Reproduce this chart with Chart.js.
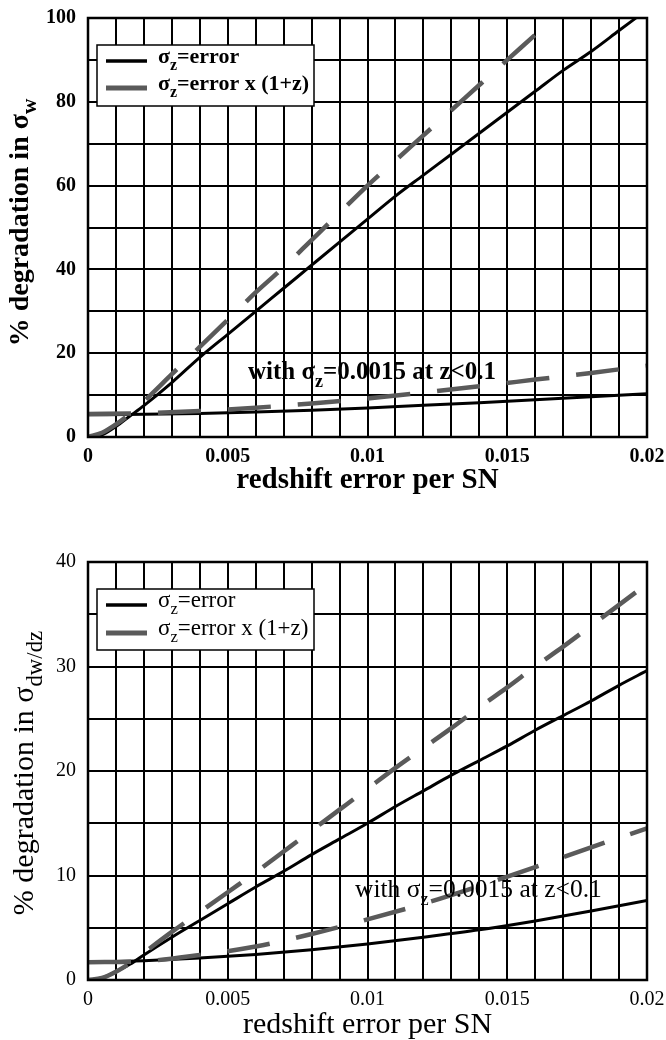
<!DOCTYPE html>
<html>
<head>
<meta charset="utf-8">
<script src="https://cdn.jsdelivr.net/npm/chart.js@4.4.1/dist/chart.umd.min.js"></script>
<style>
  html, body { margin: 0; padding: 0; background: #fff; }
  canvas { display: block; }
</style>
</head>
<body>
<canvas id="topChart" width="666" height="510"></canvas>
<canvas id="bottomChart" width="666" height="530"></canvas>
<script>
// redshift error per SN (x) sample points
const errX = [0, 0.0005, 0.001, 0.0015, 0.002, 0.003, 0.004, 0.005, 0.006, 0.007, 0.008,
  0.009, 0.010, 0.011, 0.012, 0.013, 0.014, 0.015, 0.016, 0.017, 0.018, 0.019, 0.020];
const lowX = [0, 0.002, 0.004, 0.006, 0.008, 0.010, 0.012, 0.014, 0.016, 0.018, 0.020];

// % degradation in sigma_w
const wErr = [0, 0.5, 2.5, 5, 7.5, 13, 19, 24.5, 30, 35.5, 41, 46.5, 52, 57.5, 62.5, 67.5,
  72.5, 77.5, 82.5, 87.5, 92, 97, 102];
const wErr1z = [0, 1, 3, 5.5, 8.5, 15, 21.5, 28, 34.5, 40.5, 47, 53.5, 60, 66, 72, 78, 84,
  90, 96, 102];
const wLowErr = [5.3, 5.4, 5.6, 5.95, 6.4, 6.95, 7.55, 8.2, 8.9, 9.6, 10.3];
const wLowErr1z = [5.5, 5.7, 6.2, 7.0, 8.0, 9.2, 10.6, 12.1, 13.7, 15.3, 17.0];

// % degradation in sigma_dw/dz
const dwErr = [0, 0.2, 0.8, 1.5, 2.4, 4.1, 5.7, 7.3, 8.9, 10.4, 12.0, 13.5, 15.0, 16.6, 18.1,
  19.6, 21.0, 22.4, 23.9, 25.3, 26.7, 28.2, 29.6];
const dwErr1z = [0, 0.2, 0.8, 1.6, 2.6, 4.6, 6.5, 8.4, 10.3, 12.3, 14.3, 16.3, 18.3, 20.3, 22.2,
  24.1, 26.1, 28.0, 30.0, 31.9, 33.9, 35.9, 37.9];
const dwLowErr = [1.7, 1.85, 2.1, 2.45, 2.9, 3.45, 4.1, 4.8, 5.65, 6.6, 7.6];
const dwLowErr1z = [1.7, 1.8, 2.4, 3.2, 4.4, 5.8, 7.3, 9.0, 10.8, 12.7, 14.5];

const xTickLabels = ['0', '0.005', '0.01', '0.015', '0.02'];
const wTickLabels = ['0', '20', '40', '60', '80', '100'];
const dwTickLabels = ['0', '10', '20', '30', '40'];

const legendItems = [
  { parts: [['σ'], ['z', 1], ['=error']], color: '#000', width: 3.5 },
  { parts: [['σ'], ['z', 1], ['=error x (1+z)']], color: '#5a5a5a', width: 5 }
];
const noteParts = [['with σ'], ['z', 1], ['=0.0015 at z<0.1']];

const FONT = '"Liberation Serif", "Times New Roman", serif';
const GREY = '#5a5a5a';

function pts(xs, ys) {
  return ys.map((y, i) => ({ x: xs[i], y: y }));
}

function richWidth(ctx, parts, size, weight, subScale) {
  let w = 0;
  parts.forEach(p => {
    ctx.font = weight + ' ' + (p[1] ? size * subScale : size) + 'px ' + FONT;
    w += ctx.measureText(p[0]).width;
  });
  return w;
}

function drawRich(ctx, parts, x, y, size, weight, subScale) {
  subScale = subScale || 0.72;
  let cx = x;
  ctx.textBaseline = 'alphabetic';
  ctx.textAlign = 'left';
  ctx.fillStyle = '#000';
  parts.forEach(p => {
    const sz = p[1] ? size * subScale : size;
    ctx.font = weight + ' ' + sz + 'px ' + FONT;
    ctx.fillText(p[0], cx, p[1] ? y + size * 0.3 : y);
    cx += ctx.measureText(p[0]).width;
  });
}

function makeChart(id, cfg) {
  const frame = {
    id: 'frame',
    afterDraw(chart) {
      const ctx = chart.ctx;
      const a = chart.chartArea;
      ctx.save();
      ctx.strokeStyle = '#000';
      ctx.lineWidth = 2.5;
      ctx.strokeRect(a.left, a.top, a.right - a.left, a.bottom - a.top);

      // legend box
      const lg = cfg.legend;
      ctx.fillStyle = '#fff';
      ctx.fillRect(lg.x, lg.y, lg.w, lg.h);
      ctx.lineWidth = 1.5;
      ctx.strokeRect(lg.x, lg.y, lg.w, lg.h);
      legendItems.forEach((it, i) => {
        const yy = lg.y + lg.rows[i];
        ctx.beginPath();
        ctx.strokeStyle = it.color;
        ctx.lineWidth = it.width;
        ctx.moveTo(lg.x + 9, yy);
        ctx.lineTo(lg.x + 50, yy);
        ctx.stroke();
        drawRich(ctx, it.parts, lg.x + 61, yy + 2, cfg.legendSize, cfg.weight);
      });

      // note on the low curves
      drawRich(ctx, noteParts, cfg.note.x, cfg.note.y, cfg.noteSize, cfg.weight);

      // x title
      ctx.font = cfg.weight + ' ' + cfg.titleSize + 'px ' + FONT;
      ctx.fillStyle = '#000';
      ctx.textAlign = 'center';
      ctx.textBaseline = 'alphabetic';
      ctx.fillText('redshift error per SN', (a.left + a.right) / 2, cfg.xTitleY);

      // y title (rotated, with subscript)
      const w = richWidth(ctx, cfg.yTitle, cfg.yTitleSize, cfg.weight, 0.76);
      ctx.translate(cfg.yTitleX, (a.top + a.bottom) / 2 + cfg.yTitleShift);
      ctx.rotate(-Math.PI / 2);
      drawRich(ctx, cfg.yTitle, -w / 2, 0, cfg.yTitleSize, cfg.weight, 0.76);
      ctx.restore();
    }
  };

  return new Chart(document.getElementById(id), {
    type: 'line',
    data: {
      datasets: [
        { data: pts(errX, cfg.main1z), borderColor: GREY, borderWidth: 4.5, borderDash: [43, 27], order: 0 },
        { data: pts(lowX, cfg.low1z), borderColor: GREY, borderWidth: 4.5, borderDash: [43, 27], order: 1 },
        { data: pts(errX, cfg.main), borderColor: '#000', borderWidth: 3, order: 2 },
        { data: pts(lowX, cfg.low), borderColor: '#000', borderWidth: 3, order: 3 }
      ]
    },
    options: {
      responsive: false,
      animation: false,
      events: [],
      layout: { padding: { top: cfg.padTop, right: 19, left: 0, bottom: 0 } },
      elements: {
        point: { radius: 0 },
        line: { cubicInterpolationMode: 'monotone', borderCapStyle: 'butt' }
      },
      plugins: { legend: { display: false }, tooltip: { enabled: false } },
      scales: {
        x: {
          type: 'linear',
          min: 0, max: 0.02,
          afterFit(s) { s.height = cfg.xHeight; s.paddingLeft = 0; s.paddingRight = 0; },
          border: { display: false },
          grid: { color: '#000', lineWidth: 2, drawTicks: false },
          ticks: {
            stepSize: 0.001, autoSkip: false, maxRotation: 0, padding: 8,
            color: '#000',
            font: { family: FONT, size: 20, weight: cfg.weight },
            callback: (v, i) => (i % 5 === 0 ? xTickLabels[i / 5] : '')
          }
        },
        y: {
          min: 0, max: cfg.yMax,
          afterFit(s) { s.width = 88; s.paddingTop = 0; s.paddingBottom = 0; },
          border: { display: false },
          grid: { color: '#000', lineWidth: 2, drawTicks: false },
          ticks: {
            stepSize: cfg.yStep, autoSkip: false, padding: 12,
            color: '#000',
            font: { family: FONT, size: 20, weight: cfg.weight },
            callback: (v, i) => (i % 2 === 0 ? cfg.yLabels[i / 2] : '')
          }
        }
      }
    },
    plugins: [frame]
  });
}

makeChart('topChart', {
  main: wErr, main1z: wErr1z, low: wLowErr, low1z: wLowErr1z,
  yMax: 100, yStep: 10, yLabels: wTickLabels,
  padTop: 18, xHeight: 73, weight: 'bold',
  legend: { x: 97, y: 45, w: 217, h: 61, rows: [16, 43] },
  legendSize: 22,
  note: { x: 248, y: 379 }, noteSize: 25,
  titleSize: 29, xTitleY: 488,
  yTitle: [['% degradation in σ'], ['w', 1]], yTitleSize: 28, yTitleX: 28, yTitleShift: -5
});

makeChart('bottomChart', {
  main: dwErr, main1z: dwErr1z, low: dwLowErr, low1z: dwLowErr1z,
  yMax: 40, yStep: 5, yLabels: dwTickLabels,
  padTop: 52, xHeight: 60, weight: 'normal',
  legend: { x: 97, y: 79, w: 217, h: 61, rows: [16, 44] },
  legendSize: 23,
  note: { x: 355, y: 387 }, noteSize: 25.5,
  titleSize: 30, xTitleY: 523,
  yTitle: [['% degradation in σ'], ['dw/dz', 1]], yTitleSize: 30, yTitleX: 33, yTitleShift: 2
});
</script>
</body>
</html>
